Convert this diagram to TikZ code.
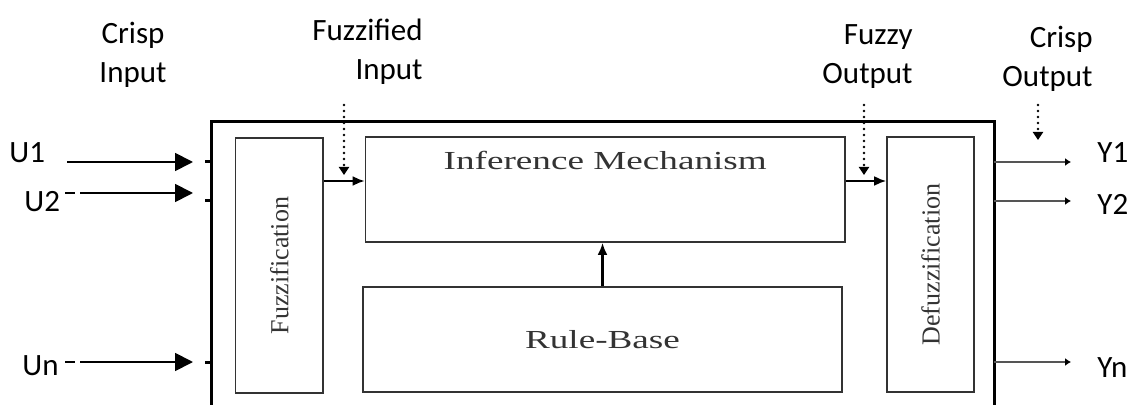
\documentclass[tikz,border=0pt]{standalone}
\usepackage{fontspec}
\usepackage{graphicx}
\setmainfont{Carlito}
\newfontfamily\boxfont{Liberation Serif}
\usetikzlibrary{arrows.meta}
\definecolor{boxgray}{HTML}{333333}
\definecolor{linegray}{HTML}{555555}
\newcommand{\wide}[1]{\scalebox{1.43}[1]{#1}}

\begin{document}
\begin{tikzpicture}[x=0.5pt,y=-0.5pt]
  \useasboundingbox (0,0) rectangle (1133,405);

  % outer frame, open at the bottom
  \draw[line width=1.5pt] (211,405) |- (994,122) -- (994,405);
  \foreach \y in {162,201,362}
    \draw[line width=1.5pt] (205,\y) -- (211,\y);

  \begin{scope}[every node/.style={draw=boxgray, line width=.8pt, inner sep=0, text=boxgray,
      font=\boxfont\fontsize{13}{13}\selectfont}]
    \node[minimum width=43.75pt, minimum height=127.5pt] (fuzz) at (279.25,265.5)
      {\rotatebox{90}{Fuzzification}};
    \node[minimum width=239.75pt, minimum height=52.5pt,
      label={[anchor=north, yshift=-7pt, inner sep=0, text=boxgray, font=\boxfont\fontsize{13}{13}\selectfont]north:\wide{Inference Mechanism}}]
      (infer) at (605.25,189.5) {};
    \node[minimum width=239.5pt, minimum height=52.5pt] (rule) at (602.5,339.5)
      {\wide{Rule-Base}};
    \node[minimum width=43.5pt, minimum height=127.5pt] (defuzz) at (930.5,264.5)
      {\rotatebox{90}{Defuzzification}};
  \end{scope}

  % signal labels
  \begin{scope}[every node/.style={inner sep=0, font=\fontsize{15.5}{19.5}\selectfont}]
    \node[anchor=north, align=center] (crispin) at (133,22) {Crisp\\Input};
    \node[anchor=north east, align=right] (fuzzin) at (423,19) {Fuzzified\\Input};
    \node[anchor=north east, align=right] (fuzzout) at (913,24) {Fuzzy\\Output};
    \node[anchor=north east, align=right] (crispout) at (1093,26) {Crisp\\Output};
    \node[anchor=base west] (u1) at (9,163) {U1};
    \node[anchor=base west] (u2) at (24,212) {U2};
    \node[anchor=base west] (un) at (22,375) {Un};
    \node[anchor=base west] (y1) at (1097,163) {Y1};
    \node[anchor=base west] (y2) at (1097,215) {Y2};
    \node[anchor=base west] (yn) at (1097,377) {Yn};
  \end{scope}

  \coordinate (u1s) at (67,162);  \coordinate (u1e) at (193,162);
  \coordinate (u2s) at (65,193);  \coordinate (u2e) at (193,193);
  \coordinate (uns) at (65,362);  \coordinate (une) at (193,362);
  \coordinate (y1s) at (994,162); \coordinate (y1e) at (1071,162);
  \coordinate (y2s) at (994,201); \coordinate (y2e) at (1071,201);
  \coordinate (yns) at (994,362); \coordinate (yne) at (1071,362);
  \coordinate (lvl) at (0,181);

  % crisp inputs
  \begin{scope}[every path/.style={line width=.9pt, -{Triangle[length=9pt,width=9pt]}}]
    \draw (u1s) -- (u1e);
    \draw[dash pattern=on 5pt off 2.5pt on 200pt] (u2s) -- (u2e);
    \draw[dash pattern=on 5pt off 2.5pt on 200pt] (uns) -- (une);
  \end{scope}

  % crisp outputs
  \begin{scope}[every path/.style={draw=linegray, line width=1pt, -{Latex[length=3pt,width=4pt,black]}}]
    \draw (y1s) -- (y1e);
    \draw (y2s) -- (y2e);
    \draw (yns) -- (yne);
  \end{scope}

  % internal flow
  \draw[line width=1.1pt, -{Latex[length=6pt,width=5pt]}] (fuzz.east |- lvl) -- (infer.west |- lvl);
  \draw[line width=1.1pt, -{Latex[length=6pt,width=5pt]}] (infer.east |- lvl) -- (defuzz.west |- lvl);
  \draw[line width=1.6pt, -{Latex[length=6pt,width=5pt]}] (rule.north) -- (rule.north |- infer.south);

  % dotted pointers
  \begin{scope}[every path/.style={line width=1.3pt, line cap=round, dash pattern=on 0pt off 3pt,
      -{Triangle[length=4pt,width=5pt,line cap=butt]}}]
    \draw (344,105) coordinate (p1) -- (344,175);
    \draw (864,105) coordinate (p2) -- (864,175);
    \draw (1038,105) coordinate (p3) -- (1038,140);
  \end{scope}

\end{tikzpicture}
\end{document}
